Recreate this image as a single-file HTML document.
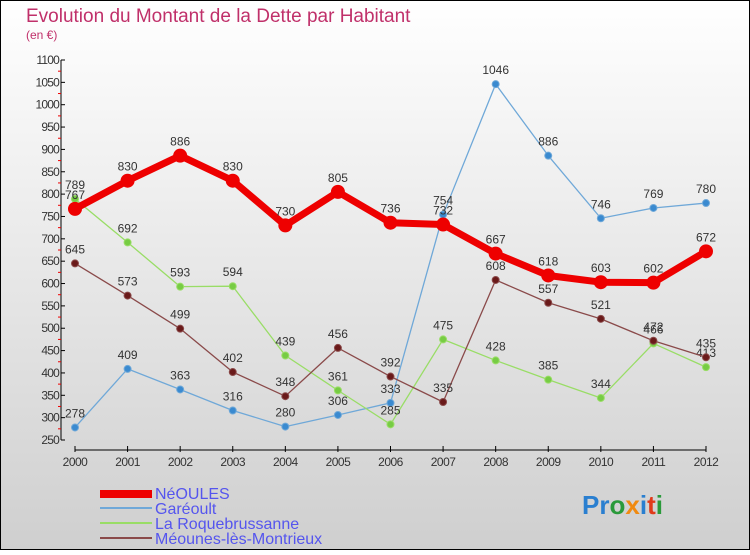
<!DOCTYPE html>
<html><head><meta charset="utf-8"><style>
html,body{margin:0;padding:0}
body{width:750px;height:550px;overflow:hidden;font-family:"Liberation Sans",sans-serif}
</style></head><body>
<svg id="chart" width="750" height="550" xmlns="http://www.w3.org/2000/svg">
<defs><linearGradient id="bg" x1="0" y1="0" x2="0" y2="1"><stop offset="0" stop-color="#ffffff"/><stop offset="1" stop-color="#cfcfcf"/></linearGradient></defs>
<rect x="0.5" y="0.5" width="749" height="549" fill="url(#bg)" stroke="#000"/>
<text x="26" y="22" font-size="19" fill="#c0306a">Evolution du Montant de la Dette par Habitant</text>
<text x="26" y="39" font-size="12" fill="#c0306a">(en €)</text>
<g id="axes"></g><g id="series"></g>
<g font-size="16" fill="#5555ee">
<rect x="100" y="490" width="52" height="8" fill="#ee0000"/>
<text x="155" y="499">NéOULES</text>
<line x1="100" y1="508" x2="152" y2="508" stroke="#6fa8d8" stroke-width="2"/>
<text x="155" y="514">Garéoult</text>
<line x1="100" y1="523" x2="152" y2="523" stroke="#99dd66" stroke-width="2"/>
<text x="155" y="529">La Roquebrussanne</text>
<line x1="100" y1="538" x2="152" y2="538" stroke="#8a4a4a" stroke-width="2"/>
<text x="155" y="544">Méounes-lès-Montrieux</text>
</g>
<g font-size="26" font-weight="bold">
<text x="582" y="514"><tspan fill="#2a7fd0">Pr</tspan><tspan fill="#2a9a3a">o</tspan><tspan fill="#f08a10">x</tspan><tspan fill="#2a7fd0">i</tspan><tspan fill="#e03a1a">t</tspan><tspan fill="#2a9a3a">i</tspan></text>
</g>
</svg>
<script>
const years=[2000,2001,2002,2003,2004,2005,2006,2007,2008,2009,2010,2011,2012];
const neoules=[767,830,886,830,730,805,736,732,667,618,603,602,672];
const gareoult=[278,409,363,316,280,306,333,754,1046,886,746,769,780];
const roque=[789,692,593,594,439,361,285,475,428,385,344,466,413];
const meounes=[645,573,499,402,348,456,392,335,608,557,521,472,435];
const yTicks=[250,300,350,400,450,500,550,600,650,700,750,800,850,900,950,1000,1050,1100];
const NS="http://www.w3.org/2000/svg";
const x=i=>75+i*(706-75)/(years.length-1);
const y=v=>440-(v-250)*(380/850);
function mk(tag,attrs,parent){const e=document.createElementNS(NS,tag);for(const k in attrs)e.setAttribute(k,attrs[k]);parent.appendChild(e);return e;}
const ax=document.getElementById('axes');
let yl=mk('line',{x1:61,y1:60,x2:61,y2:440,stroke:'#000'},ax);


yTicks.forEach((t,i)=>{
  mk('line',{x1:61,y1:y(t),x2:65,y2:y(t),stroke:'#000'},ax);
  if(i<yTicks.length-1) mk('line',{x1:58,y1:y(t+25),x2:61,y2:y(t+25),stroke:'#e00'},ax);
  const tx=mk('text',{x:59,y:y(t)+4,'font-size':12,'text-anchor':'end',fill:'#333','letter-spacing':'-0.8'},ax);
  tx.textContent=t;
  
  
});
let xl=mk('line',{x1:75,y1:450,x2:706,y2:450,stroke:'#000'},ax);


years.forEach((yr,i)=>{
  mk('line',{x1:x(i),y1:446,x2:x(i),y2:452,stroke:'#000'},ax);
  const tx=mk('text',{x:x(i),y:466,'font-size':12,'text-anchor':'middle',fill:'#333','letter-spacing':'-0.5'},ax);
  tx.textContent=yr;
  
  
});
const sg=document.getElementById('series');
function series(vals,color,dot,lw,r,name){
  const g=mk('g',{},sg);
  
  
  const pl=mk('polyline',{points:vals.map((v,i)=>x(i)+','+y(v)).join(' '),fill:'none',stroke:color,'stroke-width':lw,'stroke-linejoin':'round'},g);
  
  vals.forEach((v,i)=>{
    const c=mk('circle',{cx:x(i),cy:y(v),r:r,fill:dot,stroke:color,'stroke-width':1},g);
    
    
    const t=mk('text',{x:x(i),y:y(v)-10,'font-size':12,'text-anchor':'middle',fill:'#333'},g);
    t.textContent=v;
    
    
  });
}
series(gareoult,'#6fa8d8','#3a8ad0',1.3,3.5,'series-gareoult');
series(roque,'#99dd66','#77cc44',1.3,3.5,'series-roquebrussanne');
series(meounes,'#8a4a4a','#6a1a1a',1.3,3.5,'series-meounes');
series(neoules,'#ee0000','#ee0000',7,6.5,'series-neoules');
</script>
</body></html>
